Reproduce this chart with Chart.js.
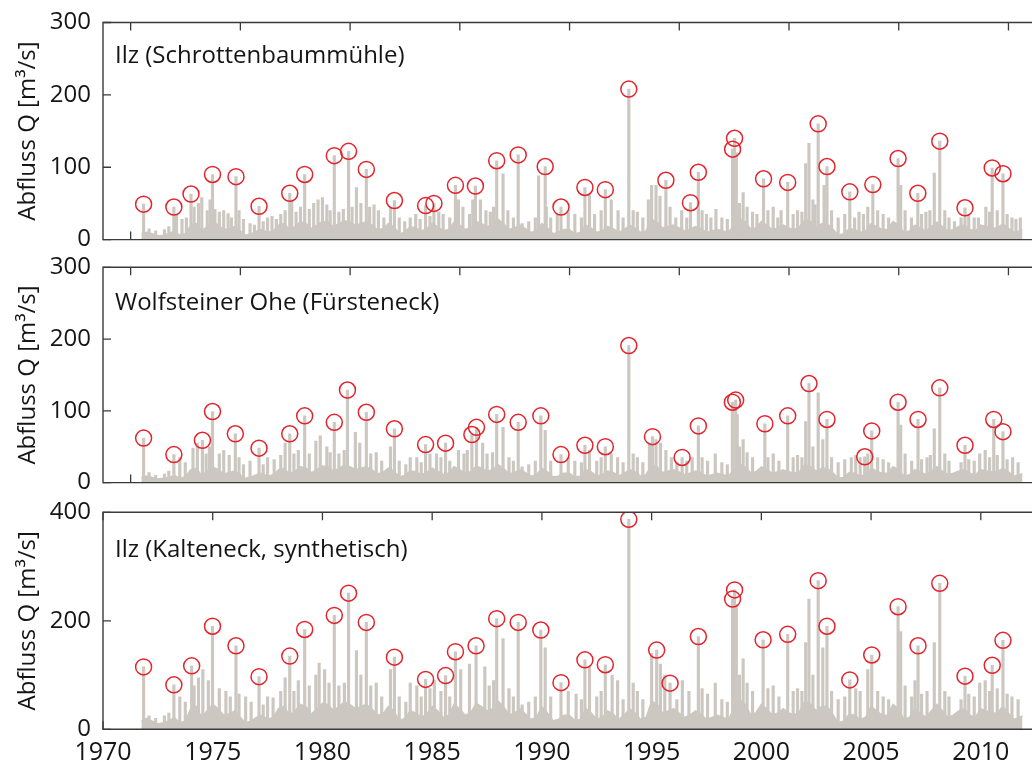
<!DOCTYPE html>
<html>
<head>
<meta charset="utf-8">
<script src="https://cdn.jsdelivr.net/npm/chart.js@4.4.1/dist/chart.umd.min.js"></script>
<style>
  html, body { margin: 0; padding: 0; background: #fff; }
  #wrap { position: relative; width: 1032px; height: 764px; overflow: hidden; }
  canvas { position: absolute; left: 0; }
</style>
</head>
<body>
<div id="wrap">
  <canvas id="c1" width="1032" height="254" style="top:0px"></canvas>
  <canvas id="c2" width="1032" height="252" style="top:245px"></canvas>
  <canvas id="c3" width="1032" height="274" style="top:490px"></canvas>
</div>
<script>
// ---- time axis ----
const yearMin = 1970;
const yearMax = 2011.9;
const xTickYears = [1970, 1975, 1980, 1985, 1990, 1995, 2000, 2005, 2010];
const xTickMarksUpper = [1971.26, 1976.26, 1981.26, 1986.26, 1991.26, 1996.26, 2001.26, 2006.26, 2011.26];

// ---- annual maxima (red circles) ----
const peakYears1 = [1971.85,1973.23,1974.01,1974.99,1976.06,1977.11,1978.51,1979.19,1980.54,1981.19,
  1982.00,1983.28,1984.70,1985.08,1986.06,1986.97,1987.94,1988.92,1990.15,1990.87,
  1991.96,1992.89,1993.96,1995.65,1996.77,1997.13,1998.69,1998.78,2000.10,2001.20,
  2002.59,2002.99,2004.03,2005.08,2006.23,2007.13,2008.13,2009.28,2010.52,2011.01];
const peakQ1 = [49,45,63,90,87,46,64,90,116,122,
  97,54,47,50,75,74,109,117,101,45,
  72,69,208,82,51,93,125,140,84,79,
  160,101,66,76,112,64,136,44,99,91];

const peakYears2 = [1971.85,1973.23,1974.53,1974.99,1976.03,1977.11,1978.51,1979.19,1980.54,1981.14,
  1982.00,1983.28,1984.70,1985.61,1986.81,1987.02,1987.94,1988.92,1989.95,1990.87,
  1991.96,1992.89,1993.96,1995.04,1996.39,1997.13,1998.68,1998.83,2000.16,2001.20,
  2002.17,2002.99,2004.71,2005.03,2006.23,2007.14,2008.13,2009.28,2010.59,2011.01];
const peakQ2 = [62,39,59,99,68,48,68,93,84,129,
  98,75,53,55,67,77,95,84,93,39,
  52,50,191,64,35,79,112,115,82,93,
  138,88,36,72,112,88,132,52,88,71];

const peakYears3 = [1971.85,1973.23,1974.04,1974.99,1976.06,1977.11,1978.51,1979.19,1980.54,1981.19,
  1982.00,1983.28,1984.70,1985.61,1986.06,1987.00,1987.94,1988.92,1989.95,1990.87,
  1991.96,1992.89,1993.96,1995.23,1995.84,1997.13,1998.69,1998.78,2000.08,2001.20,
  2002.59,2002.99,2004.03,2005.03,2006.23,2007.14,2008.13,2009.28,2010.52,2011.01];
const peakQ3 = [115,82,117,190,154,97,135,184,210,251,
  197,133,92,99,143,154,204,197,183,86,
  128,119,387,146,85,171,240,257,165,175,
  274,190,91,137,226,154,269,98,118,164];

// ---- other flood events of the daily record ----
const spikeYears1 = [
  1972.1,1972.4,1972.8,1973.0,1973.35,1973.6,1973.8,1974.15,1974.35,1974.5,
  1974.75,1974.88,1975.1,1975.3,1975.5,1975.7,1975.85,1976.2,1976.4,1976.7,
  1976.9,1977.3,1977.5,1977.7,1977.9,1978.1,1978.3,1978.6,1978.8,1979.0,
  1979.4,1979.6,1979.8,1980.0,1980.2,1980.35,1980.75,1980.95,1981.35,1981.55,
  1981.75,1982.15,1982.35,1982.55,1982.8,1983.1,1983.5,1983.75,1984.0,1984.25,
  1984.45,1984.9,1985.3,1985.5,1985.8,1986.2,1986.4,1986.7,1986.85,1987.2,
  1987.45,1987.65,1987.8,1988.23,1988.45,1988.7,1989.1,1989.4,1989.7,1989.85,
  1990.2,1990.4,1990.7,1991.2,1991.5,1991.8,1992.17,1992.4,1992.7,1993.16,
  1993.47,1993.7,1994.16,1994.35,1994.6,1994.85,1995.0,1995.2,1995.38,1995.84,
  1996.1,1996.37,1996.6,1997.3,1997.5,1997.7,1997.93,1998.2,1998.45,1998.86,
  1999.0,1999.17,1999.35,1999.6,1999.8,2000.3,2000.54,2000.75,2000.9,2001.45,
  2001.65,2001.85,2002.02,2002.17,2002.35,2002.45,2002.86,2003.2,2003.5,2003.8,
  2004.25,2004.45,2004.65,2004.85,2005.3,2005.55,2005.8,2006.35,2006.55,2006.84,
  2007.3,2007.5,2007.68,2007.88,2008.36,2008.55,2008.8,2009.1,2009.45,2009.7,
  2009.89,2010.23,2010.4,2010.75,2011.2,2011.42,2011.6,2011.8];
const spikeQ1 = [
  15,12,14,18,35,28,30,45,50,58,
  40,55,42,38,40,36,30,40,28,22,
  20,25,30,32,28,35,40,55,38,45,
  42,50,55,58,48,40,38,42,45,72,
  50,45,48,40,30,45,30,25,30,35,
  28,32,38,35,30,55,45,35,55,55,
  40,38,45,91,40,30,22,25,30,88,
  45,30,35,40,35,30,62,35,40,55,
  40,30,40,38,30,55,75,75,60,45,
  30,40,30,40,35,30,42,30,28,120,
  50,65,45,38,35,40,45,30,40,35,
  40,38,105,133,55,48,75,40,30,35,
  30,38,35,45,40,35,30,75,40,30,
  35,38,40,92,40,30,25,30,35,30,
  30,45,38,40,35,30,28,30];

const spikeYears2 = [
  1972.1,1972.4,1972.8,1973.0,1973.5,1973.75,1974.1,1974.3,1974.7,1974.85,
  1975.3,1975.5,1975.75,1976.2,1976.4,1976.7,1977.3,1977.5,1977.8,1978.1,
  1978.3,1978.7,1978.9,1979.4,1979.7,1979.9,1980.2,1980.35,1980.75,1980.99,
  1981.5,1981.7,1982.2,1982.45,1982.7,1983.1,1983.5,1983.8,1984.0,1984.3,
  1984.5,1984.9,1985.2,1985.4,1985.8,1986.2,1986.45,1986.6,1987.3,1987.5,
  1987.75,1988.23,1988.5,1988.7,1989.1,1989.4,1989.7,1990.15,1990.4,1991.2,
  1991.5,1991.8,1992.17,1992.5,1992.7,1993.16,1993.45,1993.7,1994.16,1994.35,
  1994.6,1994.9,1995.2,1995.4,1995.65,1995.9,1996.15,1996.6,1996.85,1997.3,
  1997.55,1997.9,1998.2,1998.45,1998.9,1999.0,1999.17,1999.35,1999.6,2000.3,
  2000.54,2000.8,2001.45,2001.65,2001.85,2002.02,2002.35,2002.59,2002.8,2003.2,
  2003.5,2003.8,2004.1,2004.3,2004.5,2004.85,2005.3,2005.55,2005.8,2006.35,
  2006.55,2006.85,2007.3,2007.55,2007.7,2007.88,2008.36,2008.55,2009.1,2009.45,
  2009.7,2009.95,2010.2,2010.4,2010.75,2011.2,2011.45,2011.7];
const spikeQ2 = [
  14,10,12,16,35,28,48,55,40,50,
  40,45,38,35,25,30,25,35,32,38,
  55,40,45,40,58,65,50,42,40,45,
  70,55,40,42,30,50,30,25,35,35,
  28,40,40,35,30,45,40,45,55,40,
  42,77,35,30,22,25,30,73,30,35,
  30,28,45,30,35,40,35,28,40,35,
  28,55,60,55,45,35,28,30,35,35,
  30,40,28,25,95,50,60,42,35,35,
  40,30,35,38,35,85,50,125,60,35,
  28,32,35,38,35,40,35,32,28,80,
  40,30,32,35,38,75,40,30,28,32,
  30,40,45,35,38,32,35,28];

const spikeYears3 = [
  1972.1,1972.4,1972.8,1973.0,1973.5,1973.75,1974.15,1974.35,1974.55,1974.8,
  1975.3,1975.6,1975.8,1976.2,1976.5,1976.75,1977.3,1977.5,1977.75,1978.1,
  1978.3,1978.7,1978.9,1979.4,1979.7,1979.85,1980.1,1980.3,1980.75,1981.0,
  1981.55,1981.75,1982.2,1982.45,1982.7,1983.1,1983.5,1983.8,1984.0,1984.3,
  1984.5,1984.9,1985.1,1985.4,1985.8,1986.3,1986.7,1987.4,1987.6,1987.8,
  1988.23,1988.5,1988.7,1989.1,1989.4,1989.7,1990.15,1990.4,1991.2,1991.56,
  1991.8,1992.17,1992.5,1992.7,1993.2,1993.45,1993.7,1994.16,1994.35,1994.6,
  1995.0,1995.4,1995.6,1996.15,1996.4,1996.7,1997.3,1997.55,1997.9,1998.2,
  1998.45,1998.86,1999.0,1999.17,1999.35,1999.6,2000.3,2000.54,2000.8,2001.45,
  2001.65,2001.85,2002.02,2002.17,2002.35,2002.8,2003.2,2003.5,2003.8,2004.3,
  2004.5,2004.85,2005.3,2005.55,2005.8,2006.35,2006.55,2006.85,2007.0,2007.3,
  2007.55,2007.88,2008.36,2008.55,2009.1,2009.45,2009.7,2009.95,2010.2,2010.4,
  2010.75,2011.2,2011.42,2011.7];
const spikeQ3 = [
  25,20,25,30,60,50,80,95,110,90,
  75,70,60,65,60,50,45,60,58,70,
  95,70,90,80,100,122,110,85,80,85,
  145,100,80,85,60,110,60,50,85,80,
  60,75,90,70,60,110,120,115,80,90,
  167,75,60,45,50,60,150,60,70,65,
  55,115,60,70,100,90,55,85,70,55,
  140,120,100,55,90,70,75,65,85,55,
  50,230,100,130,85,70,75,80,60,70,
  75,70,160,240,100,150,70,55,60,75,
  70,110,70,60,55,180,80,60,90,65,
  70,160,70,60,55,65,60,85,90,70,
  75,65,60,55];

// ---- base flow envelope, quarterly from 1971.75 ----
const bandStart = 1971.75;
const bandQ1 = [8,
  10,8,5,6, 8,12,6,8, 20,22,12,18, 25,20,14,15, 18,12,6,8,
  12,14,10,12, 20,22,14,18, 25,22,15,20, 25,24,18,22, 26,24,20,22,
  25,20,14,15, 22,18,8,10, 18,16,12,15, 22,18,12,14, 24,20,14,16,
  25,22,18,20, 28,22,14,16, 20,15,10,12, 22,16,8,10, 14,14,8,10,
  20,16,10,12, 18,15,10,14, 20,16,10,12, 28,24,16,18, 20,16,12,14,
  18,15,10,12, 14,12,10,20, 30,25,15,16, 25,20,14,16, 20,16,14,18,
  28,25,18,22, 22,15,6,8, 15,14,10,12, 22,18,14,14, 25,20,10,12,
  20,16,12,18, 24,18,12,14, 18,20,14,12, 20,18,16,16, 22,16,10,12, 14];
const bandQ2 = [7,
  9,7,5,6, 7,10,6,8, 18,20,10,16, 22,18,12,14, 16,10,6,8,
  11,13,9,11, 18,20,12,16, 22,20,14,18, 23,22,16,20, 24,22,18,20,
  22,18,12,14, 20,16,8,10, 16,15,11,14, 20,16,11,13, 22,18,13,15,
  23,20,16,18, 25,20,12,14, 18,14,9,11, 20,15,8,9, 13,13,8,9,
  18,15,9,11, 16,14,9,13, 18,15,9,11, 25,22,14,16, 18,15,11,13,
  16,14,9,11, 13,11,9,18, 27,22,14,15, 22,18,13,15, 18,15,13,16,
  25,22,16,20, 20,14,6,7, 14,13,9,11, 20,16,13,13, 22,18,9,11,
  18,15,11,16, 22,16,11,13, 16,18,13,11, 18,16,15,15, 20,15,9,11, 13];
const bandQ3 = [15,
  20,15,10,12, 15,22,12,15, 38,42,22,34, 46,38,26,28, 34,22,12,15,
  22,26,18,22, 38,42,26,34, 46,42,28,38, 48,46,34,42, 50,46,38,42,
  46,38,26,28, 42,34,16,20, 34,30,22,28, 42,34,22,26, 46,38,26,30,
  48,42,34,38, 52,42,26,30, 38,28,18,22, 42,30,16,18, 26,26,16,18,
  38,30,18,22, 34,28,18,26, 38,30,18,22, 52,46,30,34, 38,30,22,26,
  34,28,18,22, 26,22,18,38, 56,46,28,30, 46,38,26,30, 38,30,26,34,
  52,46,34,42, 42,28,12,15, 28,26,18,22, 42,34,26,26, 46,38,18,22,
  38,30,22,34, 46,34,22,26, 34,38,26,22, 38,34,30,30, 42,30,18,22, 26];

// ---- look ----
const FONT = "'Open Sans', 'Noto Sans', sans-serif";
const GREY = 'rgb(204,200,193)';
const RED = 'rgb(228,36,44)';
const INK = '#151515';
const FRAME = '#3a3a3a';

function toPoints(xs, ys) { return xs.map((x, i) => ({ x: x, y: ys[i] })); }
function bandPoints(values) { return values.map((v, i) => ({ x: bandStart + 0.25 * i, y: v })); }

// frame with inward tick marks and the panel caption
const framePlugin = {
  id: 'frame',
  beforeDatasetsDraw(chart, args, opts) {
    const { ctx, chartArea: a } = chart;
    const x = chart.scales.x, y = chart.scales.y;
    ctx.save();
    ctx.strokeStyle = FRAME;
    ctx.lineWidth = 1.3;
    ctx.beginPath();
    for (const t of opts.xMarks) {
      const px = x.getPixelForValue(t);
      if (px < a.left || px > a.right) continue;
      ctx.moveTo(px, a.top); ctx.lineTo(px, a.top + 8);
      ctx.moveTo(px, a.bottom); ctx.lineTo(px, a.bottom - 8);
    }
    for (const tk of y.ticks) {
      const py = y.getPixelForValue(tk.value);
      ctx.moveTo(a.left, py); ctx.lineTo(a.left + 8, py);
    }
    ctx.stroke();
    ctx.restore();
  },
  afterDatasetsDraw(chart, args, opts) {
    const { ctx, chartArea: a } = chart;
    ctx.save();
    ctx.strokeStyle = FRAME;
    ctx.lineWidth = 1.4;
    ctx.beginPath();
    ctx.moveTo(chart.width + 2, a.top);
    ctx.lineTo(a.left, a.top);
    ctx.lineTo(a.left, a.bottom);
    ctx.lineTo(chart.width + 2, a.bottom);
    ctx.stroke();
    ctx.fillStyle = INK;
    ctx.font = opts.captionSize + 'px ' + FONT;
    ctx.textBaseline = 'alphabetic';
    ctx.textAlign = 'left';
    ctx.fillText(opts.caption, a.left + 12, a.top + opts.captionDy);
    ctx.restore();
  }
};

function makePanel(id, cfg) {
  return new Chart(document.getElementById(id), {
    data: {
      datasets: [
        { type: 'scatter', data: toPoints(cfg.peakYears, cfg.peakQ), order: 0,
          pointStyle: 'circle', pointRadius: 8, pointBorderWidth: 1.5,
          pointBorderColor: RED, pointBackgroundColor: 'rgba(0,0,0,0)', showLine: false },
        { type: 'bar', data: toPoints(cfg.peakYears, cfg.peakQ).concat(toPoints(cfg.spikeYears, cfg.spikeQ)),
          order: 1, backgroundColor: GREY, borderWidth: 0, barThickness: 2.5 },
        { type: 'line', data: bandPoints(cfg.band), order: 2, borderColor: GREY, borderWidth: 1.5,
          backgroundColor: GREY, fill: 'origin', pointRadius: 0, tension: 0 }
      ]
    },
    options: {
      responsive: false,
      animation: false,
      events: [],
      layout: { padding: { left: 0, right: 0, top: cfg.padTop, bottom: cfg.padBottom } },
      plugins: {
        legend: { display: false },
        tooltip: { enabled: false },
        frame: { xMarks: cfg.xMarks, caption: cfg.caption, captionDy: cfg.captionDy, captionSize: 24 }
      },
      scales: {
        x: {
          type: 'linear', min: yearMin, max: yearMax, offset: false,
          display: cfg.showYears,
          grid: { display: false, drawTicks: true, tickLength: 9 },
          border: { display: false },
          ticks: { stepSize: 5, includeBounds: false, maxRotation: 0, autoSkip: false, padding: 0,
                   color: INK, font: { family: FONT, size: 25 }, callback: v => String(v) },
          afterFit: s => { if (cfg.showYears) s.height = cfg.xAxisHeight; }
        },
        y: {
          type: 'linear', min: 0, max: cfg.yMax,
          grid: { display: false, drawTicks: true, tickLength: 12 },
          border: { display: false },
          ticks: { stepSize: cfg.yStep, padding: 0, color: INK, font: { family: FONT, size: 24 } },
          title: { display: true, text: 'Abfluss Q [m³/s]', color: INK,
                   font: { family: FONT, size: 24 }, padding: { top: 14, bottom: 0 } },
          afterFit: s => { s.width = 103; }
        }
      }
    },
    plugins: [framePlugin]
  });
}

makePanel('c1', {
  peakYears: peakYears1, peakQ: peakQ1, spikeYears: spikeYears1, spikeQ: spikeQ1, band: bandQ1,
  yMax: 300, yStep: 100, padTop: 22.5, padBottom: 14, showYears: false,
  xMarks: xTickMarksUpper, caption: 'Ilz (Schrottenbaummühle)', captionDy: 40
});
makePanel('c2', {
  peakYears: peakYears2, peakQ: peakQ2, spikeYears: spikeYears2, spikeQ: spikeQ2, band: bandQ2,
  yMax: 300, yStep: 100, padTop: 22.3, padBottom: 13.7, showYears: false,
  xMarks: xTickMarksUpper, caption: 'Wolfsteiner Ohe (Fürsteneck)', captionDy: 43
});
makePanel('c3', {
  peakYears: peakYears3, peakQ: peakQ3, spikeYears: spikeYears3, spikeQ: spikeQ3, band: bandQ3,
  yMax: 400, yStep: 200, padTop: 22.3, padBottom: 0, showYears: true, xAxisHeight: 34.7,
  xMarks: xTickYears, caption: 'Ilz (Kalteneck, synthetisch)', captionDy: 45
});
</script>
</body>
</html>
